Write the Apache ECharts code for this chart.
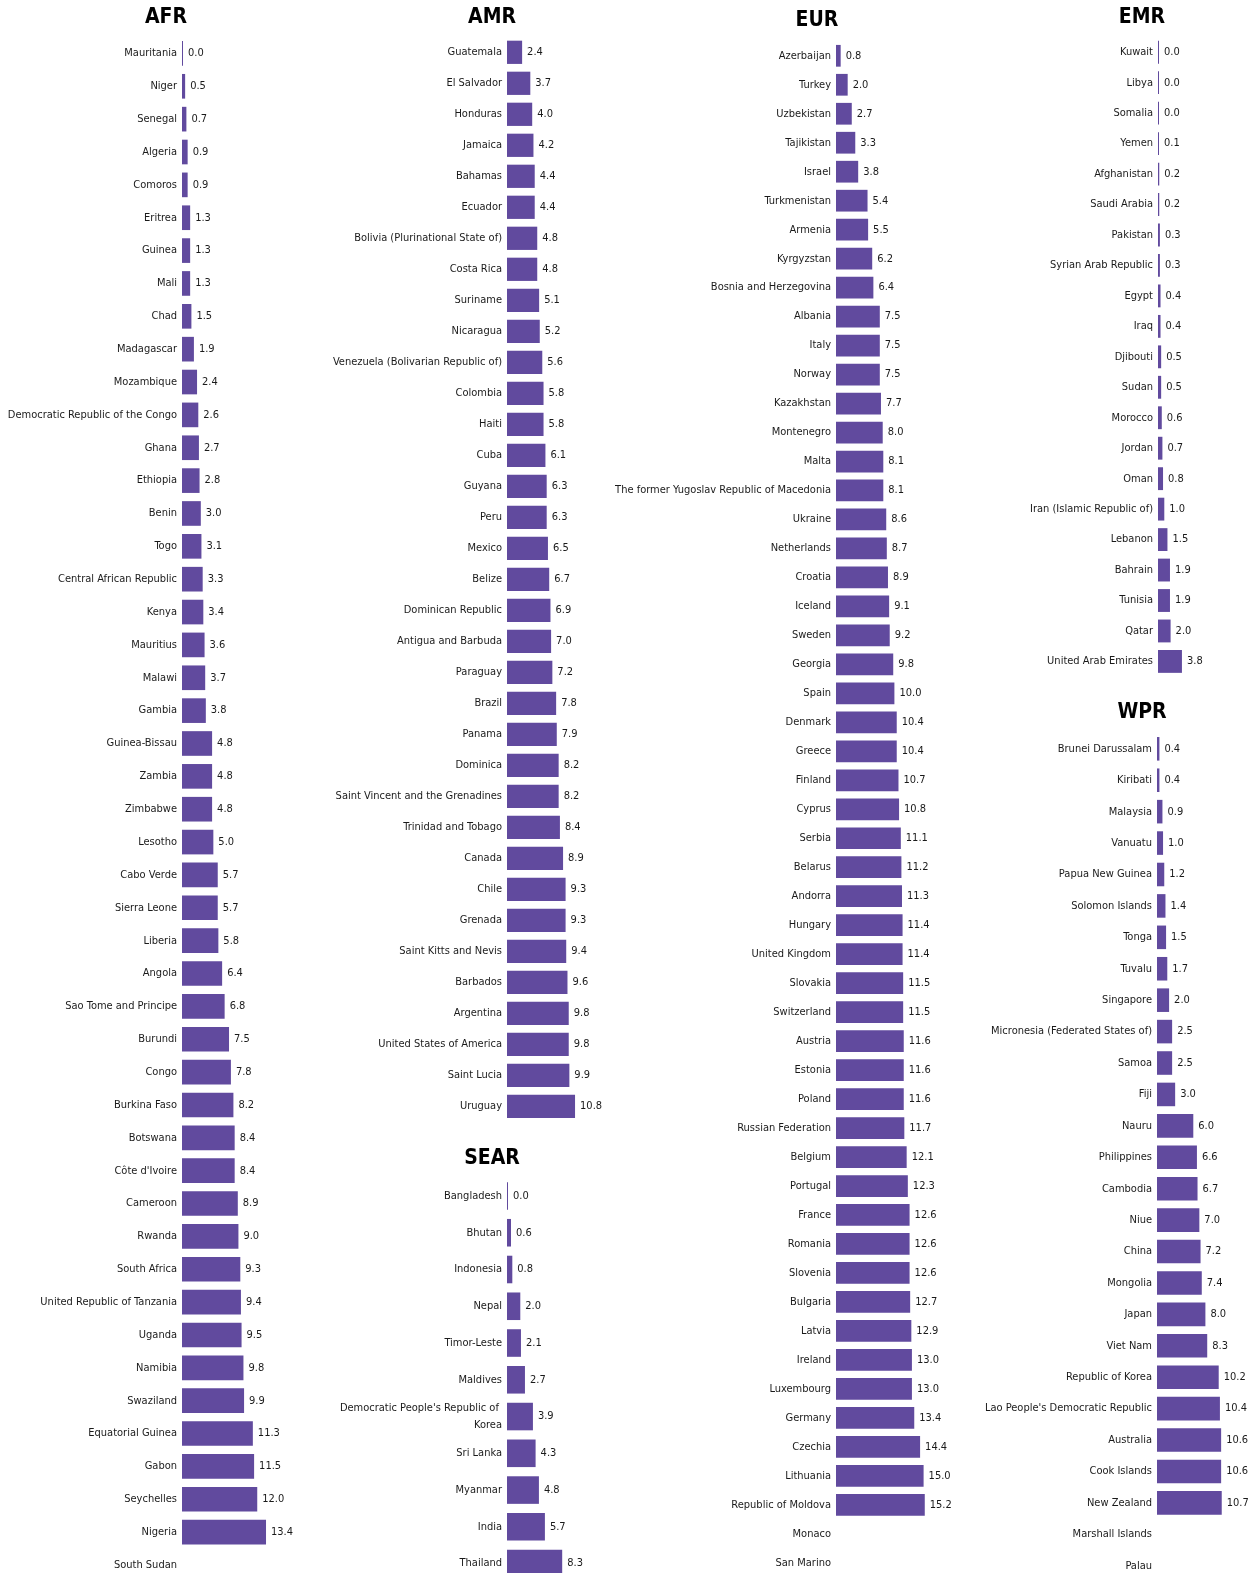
<!DOCTYPE html>
<html>
<head>
<meta charset="utf-8">
<script src="https://cdn.jsdelivr.net/npm/echarts@6/dist/echarts.min.js"></script>
<style>
html,body{margin:0;padding:0;background:#fff;}
#chart{width:1252px;height:1573px;}
</style>
</head>
<body>
<div id="chart"></div>
<script>
// ---- Data ----
const afrNames = ["Mauritania","Niger","Senegal","Algeria","Comoros","Eritrea","Guinea","Mali","Chad","Madagascar","Mozambique","Democratic Republic of the Congo","Ghana","Ethiopia","Benin","Togo","Central African Republic","Kenya","Mauritius","Malawi","Gambia","Guinea-Bissau","Zambia","Zimbabwe","Lesotho","Cabo Verde","Sierra Leone","Liberia","Angola","Sao Tome and Principe","Burundi","Congo","Burkina Faso","Botswana","Côte d'Ivoire","Cameroon","Rwanda","South Africa","United Republic of Tanzania","Uganda","Namibia","Swaziland","Equatorial Guinea","Gabon","Seychelles","Nigeria","South Sudan"];
const afrValues = [0.0,0.5,0.7,0.9,0.9,1.3,1.3,1.3,1.5,1.9,2.4,2.6,2.7,2.8,3.0,3.1,3.3,3.4,3.6,3.7,3.8,4.8,4.8,4.8,5.0,5.7,5.7,5.8,6.4,6.8,7.5,7.8,8.2,8.4,8.4,8.9,9.0,9.3,9.4,9.5,9.8,9.9,11.3,11.5,12.0,13.4,null];

const amrNames = ["Guatemala","El Salvador","Honduras","Jamaica","Bahamas","Ecuador","Bolivia (Plurinational State of)","Costa Rica","Suriname","Nicaragua","Venezuela (Bolivarian Republic of)","Colombia","Haiti","Cuba","Guyana","Peru","Mexico","Belize","Dominican Republic","Antigua and Barbuda","Paraguay","Brazil","Panama","Dominica","Saint Vincent and the Grenadines","Trinidad and Tobago","Canada","Chile","Grenada","Saint Kitts and Nevis","Barbados","Argentina","United States of America","Saint Lucia","Uruguay"];
const amrValues = [2.4,3.7,4.0,4.2,4.4,4.4,4.8,4.8,5.1,5.2,5.6,5.8,5.8,6.1,6.3,6.3,6.5,6.7,6.9,7.0,7.2,7.8,7.9,8.2,8.2,8.4,8.9,9.3,9.3,9.4,9.6,9.8,9.8,9.9,10.8];

const eurNames = ["Azerbaijan","Turkey","Uzbekistan","Tajikistan","Israel","Turkmenistan","Armenia","Kyrgyzstan","Bosnia and Herzegovina","Albania","Italy","Norway","Kazakhstan","Montenegro","Malta","The former Yugoslav Republic of Macedonia","Ukraine","Netherlands","Croatia","Iceland","Sweden","Georgia","Spain","Denmark","Greece","Finland","Cyprus","Serbia","Belarus","Andorra","Hungary","United Kingdom","Slovakia","Switzerland","Austria","Estonia","Poland","Russian Federation","Belgium","Portugal","France","Romania","Slovenia","Bulgaria","Latvia","Ireland","Luxembourg","Germany","Czechia","Lithuania","Republic of Moldova","Monaco","San Marino"];
const eurValues = [0.8,2.0,2.7,3.3,3.8,5.4,5.5,6.2,6.4,7.5,7.5,7.5,7.7,8.0,8.1,8.1,8.6,8.7,8.9,9.1,9.2,9.8,10.0,10.4,10.4,10.7,10.8,11.1,11.2,11.3,11.4,11.4,11.5,11.5,11.6,11.6,11.6,11.7,12.1,12.3,12.6,12.6,12.6,12.7,12.9,13.0,13.0,13.4,14.4,15.0,15.2,null,null];

const emrNames = ["Kuwait","Libya","Somalia","Yemen","Afghanistan","Saudi Arabia","Pakistan","Syrian Arab Republic","Egypt","Iraq","Djibouti","Sudan","Morocco","Jordan","Oman","Iran (Islamic Republic of)","Lebanon","Bahrain","Tunisia","Qatar","United Arab Emirates"];
const emrValues = [0.0,0.0,0.0,0.1,0.2,0.2,0.3,0.3,0.4,0.4,0.5,0.5,0.6,0.7,0.8,1.0,1.5,1.9,1.9,2.0,3.8];

const wprNames = ["Brunei Darussalam","Kiribati","Malaysia","Vanuatu","Papua New Guinea","Solomon Islands","Tonga","Tuvalu","Singapore","Micronesia (Federated States of)","Samoa","Fiji","Nauru","Philippines","Cambodia","Niue","China","Mongolia","Japan","Viet Nam","Republic of Korea","Lao People's Democratic Republic","Australia","Cook Islands","New Zealand","Marshall Islands","Palau"];
const wprValues = [0.4,0.4,0.9,1.0,1.2,1.4,1.5,1.7,2.0,2.5,2.5,3.0,6.0,6.6,6.7,7.0,7.2,7.4,8.0,8.3,10.2,10.4,10.6,10.6,10.7,null,null];

const searNames = ["Bangladesh","Bhutan","Indonesia","Nepal","Timor-Leste","Maldives","Democratic People's Republic of Korea","Sri Lanka","Myanmar","India","Thailand"];
const searValues = [0.0,0.6,0.8,2.0,2.1,2.7,3.9,4.3,4.8,5.7,8.3];

// ---- Layout (positions/styles only) ----
const panels = [
  {title:"AFR",  names:afrNames,  values:afrValues,  left:182,  scale:6.27, max:15, top:37.0,   band:32.86, tx:166, ty:17.5},
  {title:"AMR",  names:amrNames,  values:amrValues,  left:507,  scale:6.30, max:12, top:36.8,   band:31.0,  tx:492, ty:17.5},
  {title:"EUR",  names:eurNames,  values:eurValues,  left:836,  scale:5.84, max:16, top:41.3,   band:28.98, tx:817, ty:21},
  {title:"EMR",  names:emrNames,  values:emrValues,  left:1158, scale:6.30, max:4,  top:37.0,   band:30.46, tx:1142, ty:17.5},
  {title:"WPR",  names:wprNames,  values:wprValues,  left:1157, scale:6.05, max:11, top:733.1,  band:31.42, tx:1142, ty:713},
  {title:"SEAR", names:searNames, values:searValues, left:507,  scale:6.65, max:9,  top:1177.6, band:36.76, tx:492, ty:1159, wrap:172}
];

const FONT = '"DejaVu Sans Condensed","Liberation Sans Narrow",sans-serif';
const BAR = '#614a9e';

const grid = [], xAxis = [], yAxis = [], series = [], graphic = [];
panels.forEach((p, i) => {
  grid.push({left:p.left, top:p.top, width:p.max*p.scale, height:p.names.length*p.band,
    containLabel:false, outerBoundsMode:'none'});
  xAxis.push({type:'value', gridIndex:i, min:0, max:p.max, show:false});
  const lab = {fontFamily:FONT, fontSize:11, color:'#1a1a1a', margin:5};
  if (p.wrap) { lab.width = p.wrap; lab.overflow = 'break'; lab.lineHeight = 17; }
  yAxis.push({type:'category', gridIndex:i, data:p.names, inverse:true,
    axisLine:{show:false}, axisTick:{show:false}, splitLine:{show:false}, axisLabel:lab});
  series.push({type:'bar', xAxisIndex:i, yAxisIndex:i, data:p.values, barCategoryGap:'25%',
    barMinHeight:1, itemStyle:{color:BAR}, silent:true,
    label:{show:true, position:'right', distance:5, fontFamily:FONT, fontSize:11, color:'#1a1a1a',
      formatter: d => (d.value == null ? '' : Number(d.value).toFixed(1))}});
  graphic.push({type:'text', x:p.tx, y:p.ty, style:{text:p.title, textAlign:'center', textVerticalAlign:'middle',
    font:'bold 21px ' + FONT, fill:'#000'}});
});

const chart = echarts.init(document.getElementById('chart'), null, {renderer:'canvas'});
chart.setOption({backgroundColor:'#fff', animation:false, grid, xAxis, yAxis, series, graphic});
</script>
</body>
</html>
